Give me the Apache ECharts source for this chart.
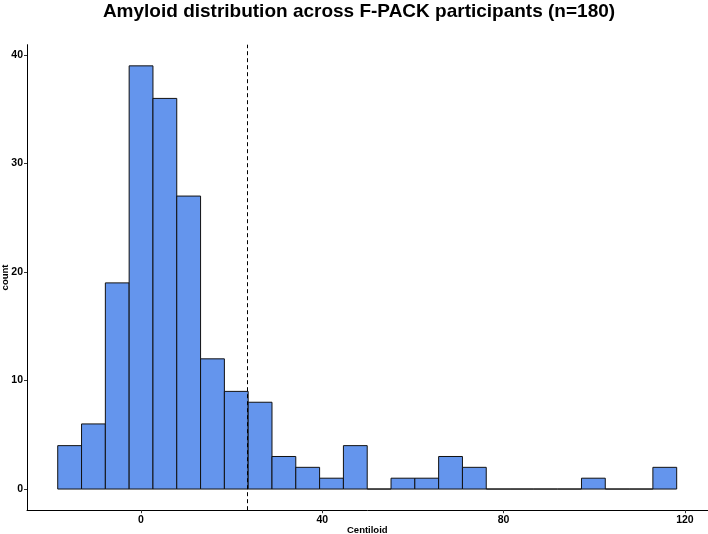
<!DOCTYPE html>
<html>
<head>
<meta charset="utf-8">
<script src="https://cdn.jsdelivr.net/npm/echarts@6/dist/echarts.min.js"></script>
<style>
html,body{margin:0;padding:0;background:#fff;}
#c{width:708px;height:534px;}
</style>
</head>
<body>
<div id="c"></div>
<script>
// ---- data ----
const binStart = -18.37;
const binWidth = 5.252;
const counts = [4, 6, 19, 39, 36, 27, 12, 9, 8, 3, 2, 1, 4, 0, 1, 1, 3, 2, 0, 0, 0, 0, 1, 0, 0, 2];
const cutoff = 23.5;
const xTicks = [0, 40, 80, 120];
const yTicks = [0, 10, 20, 30, 40];
const titleText = 'Amyloid distribution across F-PACK participants (n=180)';
const xName = 'Centiloid';
const yName = 'count';

const bins = counts.map((c, i) => [binStart + i * binWidth, binStart + (i + 1) * binWidth, c]);

const font = 'Liberation Sans, Arial, sans-serif';
const chart = echarts.init(document.getElementById('c'), null, {renderer: 'canvas'});
chart.setOption({
  animation: false,
  backgroundColor: '#fff',
  title: {
    text: titleText,
    left: 354, top: -3, textAlign: 'center',
    textStyle: {fontFamily: font, fontWeight: 'bold', fontSize: 19, color: '#000'}
  },
  grid: {left: 27, top: 44.7, width: 680.6, height: 465.5, containLabel: false, outerBoundsMode: 'none'},
  xAxis: {
    type: 'value', min: -25.15, max: 125.0,
    name: xName, nameLocation: 'middle', nameGap: 15, nameMoveOverlap: false,
    nameTextStyle: {fontFamily: font, fontWeight: 'bold', fontSize: 9.5, color: '#000', verticalAlign: 'top'},
    axisLine: {onZero: false, lineStyle: {color: '#000', width: 1}},
    axisTick: {show: true, length: 3, customValues: xTicks, lineStyle: {color: '#333'}},
    axisLabel: {customValues: xTicks, fontFamily: font, fontWeight: 'bold', fontSize: 10.5, color: '#000', margin: 4},
    splitLine: {show: false}
  },
  yAxis: {
    type: 'value', min: -1.95, max: 40.95,
    name: yName, nameLocation: 'middle', nameGap: 17, nameRotate: 90, nameMoveOverlap: false,
    nameTextStyle: {fontFamily: font, fontWeight: 'bold', fontSize: 9.5, color: '#000'},
    axisLine: {show: true, onZero: false, lineStyle: {color: '#000', width: 1}},
    axisTick: {show: true, length: 3, customValues: yTicks, lineStyle: {color: '#333'}},
    axisLabel: {customValues: yTicks, fontFamily: font, fontWeight: 'bold', fontSize: 10.5, color: '#000', margin: 4},
    splitLine: {show: false}
  },
  series: [{
    type: 'custom',
    data: bins,
    encode: {x: [0, 1], y: 2},
    renderItem: function (params, api) {
      const p0 = api.coord([api.value(0), api.value(2)]);
      const p1 = api.coord([api.value(1), 0]);
      return {
        type: 'rect',
        shape: {x: p0[0], y: p0[1], width: p1[0] - p0[0], height: p1[1] - p0[1]},
        style: {fill: '#6495ED', stroke: '#111', lineWidth: 1}
      };
    },
    markLine: {
      silent: true, symbol: 'none', animation: false,
      label: {show: false},
      lineStyle: {color: '#000', type: [4, 3], width: 1},
      data: [{xAxis: cutoff}]
    }
  }]
});
</script>
</body>
</html>
